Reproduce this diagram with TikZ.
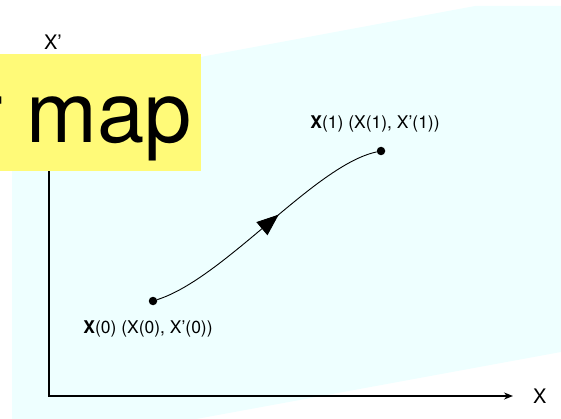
\documentclass[tikz,border=0pt]{standalone}
\usepackage{fontspec}
\setmainfont{TeX Gyre Heros}
\usetikzlibrary{arrows.meta, positioning, decorations.markings}
\definecolor{phasebg}{RGB}{238,255,255}
\definecolor{titlebg}{RGB}{255,250,120}
\tikzset{
  dot/.style={circle,fill,inner sep=0pt,minimum size=8.5pt},
  ptlabel/.style={inner sep=0pt,font=\fontsize{17.5}{20}\selectfont},
  axislabel/.style={inner sep=0pt,font=\fontsize{20}{24}\selectfont},
  axis/.style={line width=1.5pt,-{Stealth[length=9pt,width=7pt]}},
  traj/.style={line width=0.9pt,postaction={decorate},
    decoration={markings,mark=at position 0.56 with {\arrow{Triangle[length=22pt,width=17pt]}}}}
}

\begin{document}
\begin{tikzpicture}[x=1pt,y=-1pt]
\useasboundingbox (0,0) rectangle (561,419);
% backgrounds
\fill[phasebg] (12,92) -- (475,6) -- (561,6) -- (561,352) -- (180,422) -- (12,422) -- cycle;
\coordinate (origin) at (49,396);
\coordinate (xend) at (513,396);
\coordinate (ytop) at (49,120);
\draw[axis] (ytop) -- (origin) -- (xend);
\fill[titlebg] (-80,54) rectangle (201,171);
\node[inner sep=0pt,anchor=base east,font=\fontsize{85}{90}\selectfont] (title) at (192,143) {r map};
\node[axislabel,right=20pt of xend] (xlab) {X};
\node[axislabel] (ylab) at (53,42) {X’};
% trajectory
\node[dot] (x0) at (153,301) {};
\node[dot] (x1) at (381,151) {};
\node[ptlabel,below=15pt of x0,xshift=-5pt] (l0) {\textbf{X}(0) (X(0), X’(0))};
\node[ptlabel,above=14pt of x1,xshift=-6pt] (l1) {\textbf{X}(1) (X(1), X’(1))};
\draw[traj] (x0) .. controls (225,278) and (315,165) .. (x1);
\end{tikzpicture}
\end{document}
